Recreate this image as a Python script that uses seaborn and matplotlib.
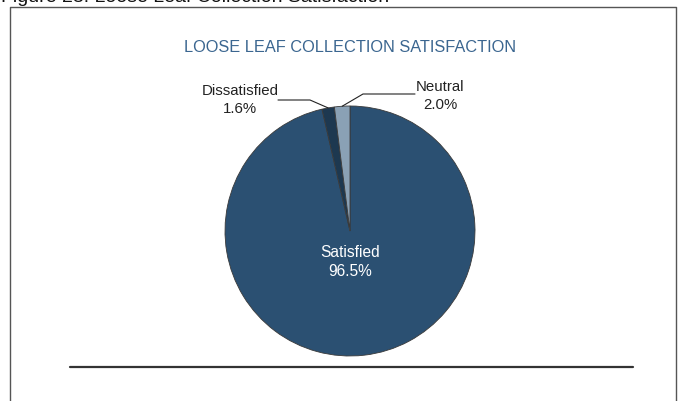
import numpy as np
import seaborn as sns
import matplotlib
matplotlib.use("Agg")
import matplotlib.pyplot as plt
from matplotlib.lines import Line2D

labels = ["Satisfied", "Dissatisfied", "Neutral"]
shares = [96.5, 1.6, 2.0]
colors = ["#2b5072", "#1d3850", "#8aa1b5"]

sns.set_theme(style="white")
plt.rcParams["font.family"] = ["Liberation Sans", "DejaVu Sans"]

W, H = 678, 401
fig = plt.figure(figsize=(W / 100, H / 100), dpi=100)

def fx(px):
    return px / W

def fy(py):
    return 1 - py / H

# pie axes: center (350, 231), radius 125 px
ax = fig.add_axes([fx(225), fy(356), 250 / W, 250 / H])
wedges, _ = ax.pie(shares, colors=colors, startangle=90, counterclock=False,
                   wedgeprops=dict(edgecolor="#3a3a3a", linewidth=0.6))
ax.set_xlim(-1, 1)
ax.set_ylim(-1, 1)
ax.set_aspect("equal")
ax.axis("off")

# inside label
ax.text(0, -0.25, f"{labels[0]}\n{shares[0]:.1f}%", color="white", ha="center",
        va="center", fontsize=11.2, linespacing=1.3)

# outside labels with leader lines
def edge(w):
    a = np.deg2rad((w.theta1 + w.theta2) / 2)
    return np.cos(a), np.sin(a)

ex, ey = edge(wedges[1])
ax.plot([ex, -0.32, -0.576], [ey, 1.048, 1.048], color="#222222", lw=0.8, clip_on=False)
ax.text(-0.88, 1.048, f"{labels[1]}\n{shares[1]:.1f}%", ha="center", va="center",
        fontsize=10.8, color="#222222", linespacing=1.3)

ex, ey = edge(wedges[2])
ax.plot([ex, 0.104, 0.52], [ey, 1.096, 1.096], color="#222222", lw=0.8, clip_on=False)
ax.text(0.72, 1.08, f"{labels[2]}\n{shares[2]:.1f}%", ha="center", va="center",
        fontsize=10.8, color="#222222", linespacing=1.3)

# title and caption
fig.text(fx(350), fy(48), "LOOSE LEAF COLLECTION SATISFACTION", ha="center", va="center",
         fontsize=11.8, color="#3b6690")
fig.text(fx(1), fy(2), "Figure 23: Loose Leaf Collection Satisfaction", ha="left",
         va="baseline", fontsize=14, color="#111111")

# frame and rule
fig.add_artist(Line2D([fx(10), fx(10), fx(676), fx(676)], [0, fy(7), fy(7), 0],
                      transform=fig.transFigure, color="#555555", lw=1))
fig.add_artist(Line2D([fx(70), fx(633)], [fy(367), fy(367)],
                      transform=fig.transFigure, color="#333333", lw=1.6))

fig.savefig("out.png", dpi=100)
